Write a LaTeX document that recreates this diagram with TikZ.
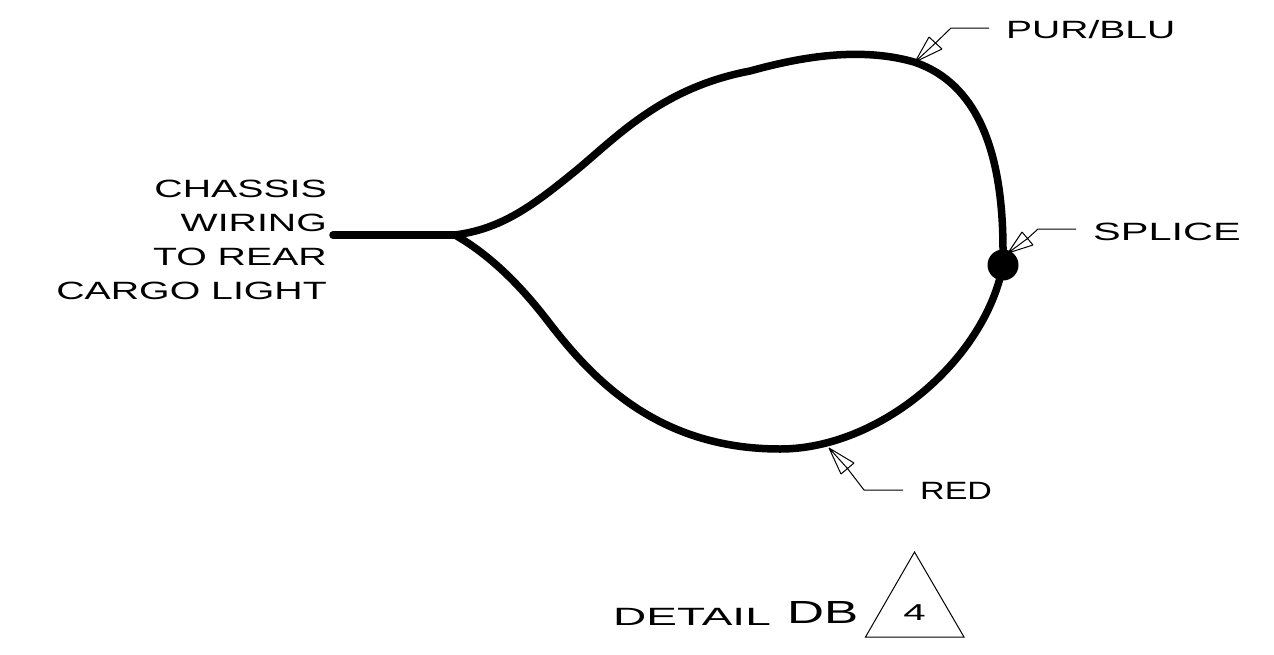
\documentclass[tikz,border=0pt]{standalone}
\usepackage{fontspec}
\setmainfont{Liberation Sans}
\newcommand{\wide}[2][1.57]{\scalebox{#1}[1]{#2}}
\tikzset{
  wire/.style={line width=7.5pt,line cap=round,line join=round},
  leader/.style={line width=1pt,line join=miter},
  lbl/.style={inner sep=0pt,font=\fontsize{25}{34}\selectfont,anchor=base west},
  dot/.style={circle,fill=black,inner sep=0pt,minimum size=31pt}
}
\begin{document}
\begin{tikzpicture}[x=1pt,y=-1pt]
\useasboundingbox (0,0) rectangle (1274,654);
\coordinate (start) at (333,235);
\coordinate (fork) at (455,235);
\node[dot] (splice) at (1003,265) {};
% wires
\draw[wire] (start) -- (fork);
\draw[wire] (fork) .. controls (500,229) and (530,208) .. (573,173)
  .. controls (615,139) and (660,88) .. (750,71)
  .. controls (790,60) and (855,45) .. (914,62)
  .. controls (968,80) and (1003,135) .. (1003,250)
  -- (splice.center);
\draw[wire] (fork) .. controls (490,255) and (520,285) .. (547,320)
  .. controls (590,376) and (655,449) .. (780,449)
  .. controls (880,449) and (985,360) .. (splice.center);
% leaders
\coordinate (pTip) at (915,62);
\coordinate (sTip) at (1008,253);
\coordinate (rTip) at (829,448);
\draw[leader] (pTip) -- (929,37) (pTip) -- (942,49) (929,37) -- (942,49)
  (pTip) -- (935.5,43) -- (951,28) -- (989,28);
\draw[leader] (sTip) -- (1022,232) (sTip) -- (1033,245) (1022,232) -- (1033,245)
  (sTip) -- (1027.5,238.5) -- (1038,229) -- (1076,229);
\draw[leader] (rTip) -- (841,474) (rTip) -- (854,463) (841,474) -- (854,463)
  (rTip) -- (847.5,468.5) -- (864,490) -- (903,490);
% labels
\node[lbl] (pur) at (1006,38) {\wide[1.56]{PUR/BLU}};
\node[lbl] (spl) at (1093,240) {\wide[1.66]{SPLICE}};
\node[lbl] (red) at (920,499) {\wide[1.36]{RED}};
\node[inner sep=0pt,anchor=east,font=\fontsize{25}{34}\selectfont] (chassis) at (327,242)
  {\wide{\begin{tabular}{@{}r@{}}CHASSIS\\WIRING\\TO REAR\\CARGO LIGHT\end{tabular}}};
\node[lbl] (detail) at (613,625) {\wide[1.84]{DETAIL}};
\node[lbl,font=\fontsize{32}{36}\selectfont] (db) at (787,623) {\wide[1.6]{DB}};
\coordinate (tA) at (914.5,552);
\coordinate (tB) at (865.5,637);
\coordinate (tC) at (964,637);
\draw[line width=1pt] (tA) -- (tB) -- (tC) -- cycle;
\node[lbl,anchor=base,font=\fontsize{23}{28}\selectfont] (four) at (914.5,620) {\wide[1.75]{4}};
\end{tikzpicture}
\end{document}
